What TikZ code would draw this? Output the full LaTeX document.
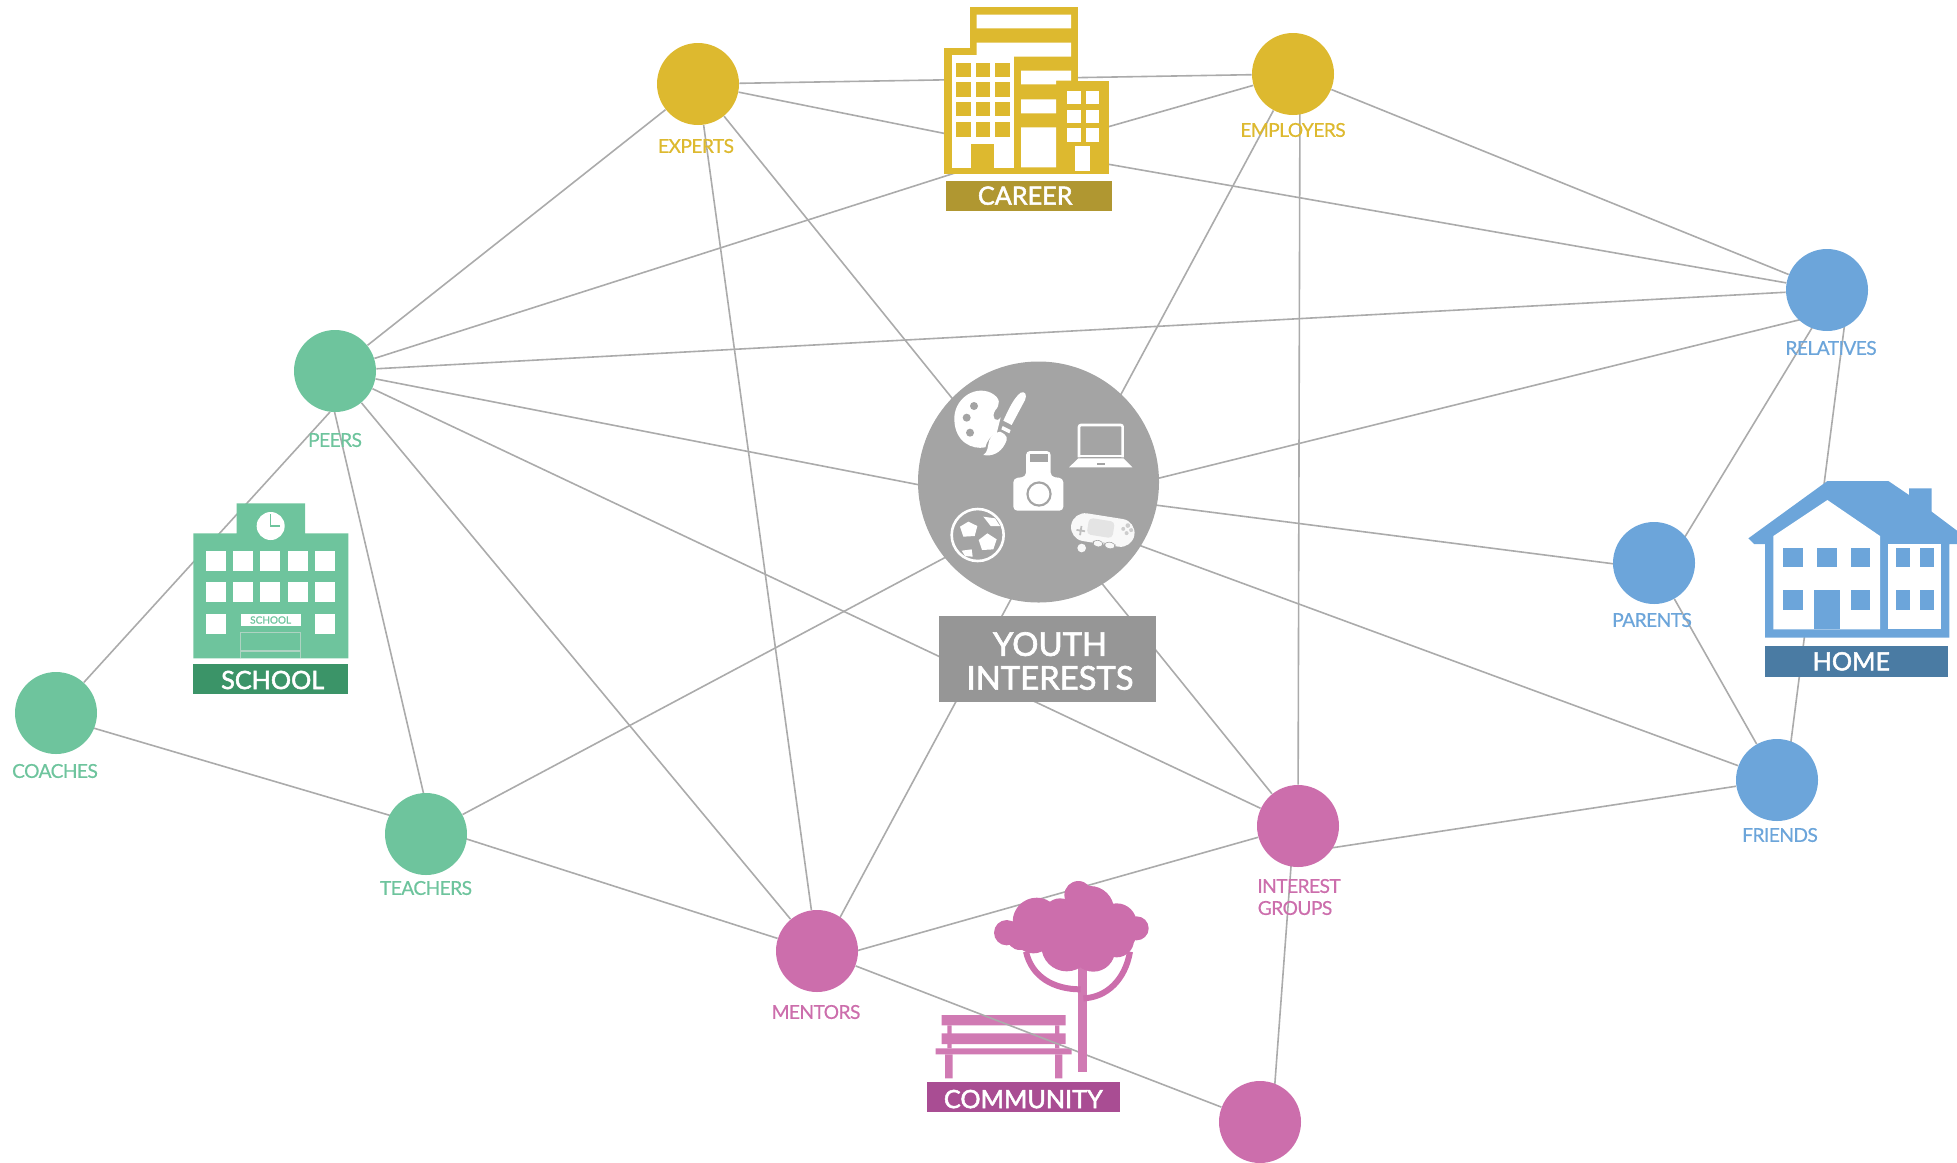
\documentclass[tikz,border=0pt]{standalone}
\usepackage{fontspec}
\setmainfont{Lato}
\usetikzlibrary{backgrounds}
\definecolor{gold}{HTML}{DDB92F}\definecolor{golddk}{HTML}{B09731}
\definecolor{grn}{HTML}{6EC49D}\definecolor{grndk}{HTML}{3B9468}
\definecolor{blu}{HTML}{6CA5DA}\definecolor{bludk}{HTML}{4A7BA3}
\definecolor{pnk}{HTML}{CC6EAC}\definecolor{pnkdk}{HTML}{A94D93}
\definecolor{gry}{HTML}{A4A4A4}\definecolor{grydk}{HTML}{969696}
\definecolor{edgec}{HTML}{ABABAB}
\newcommand\fsz[1]{\fontsize{#1}{#1}\selectfont}
\tikzset{
  hub/.style={circle,inner sep=0pt,minimum size=41pt,fill=#1},
  lab/.style={inner sep=0pt,text=#1,font=\fsz{9.6}\addfontfeatures{LetterSpace=-3,FakeBold=0.5}},
  ban/.style={inner sep=0pt,fill=#1,text=white,font=\fsz{12.6}\addfontfeatures{FakeBold=2}},
  link/.style={draw=edgec,line width=0.8pt},
  zoomed/.style={x=0.16667pt,y=-0.16667pt},
}
\begin{document}
\begin{tikzpicture}[x=0.5pt,y=-0.5pt]
\clip (0,0) rectangle (1957,1162);
% circles
\node[hub=gold] (exp) at (698,84) {};
\node[hub=gold] (emp) at (1293,74) {};
\node[hub=blu] (rel) at (1827,290) {};
\node[hub=blu] (par) at (1654,563) {};
\node[hub=blu] (frd) at (1777,780) {};
\node[hub=grn] (pee) at (335,371) {};
\node[hub=grn] (coa) at (56,713) {};
\node[hub=grn] (tea) at (426,834) {};
\node[hub=pnk] (men) at (817,951) {};
\node[hub=pnk] (int) at (1298,826) {};
\node[hub=pnk] (bot) at (1260,1122) {};
\coordinate (car) at (1027,150);
\coordinate (yc) at (1038,508);
\coordinate (yp) at (1038,490);
\coordinate (relb) at (1849,290);
\coordinate (frdb) at (1786,780);
\coordinate (empb) at (1300,74);
\coordinate (rely) at (1827,313);
\coordinate (relp) at (1835,290);
\coordinate (parr) at (1669,563);
\coordinate (paro) at (1654,569);
\coordinate (peet) at (325,371);
\coordinate (teap) at (433,834);
\coordinate (peec) at (330,412);
\coordinate (teah) at (426,826);
\coordinate (coah) at (56,717);
\coordinate (intb) at (1294,826);
\coordinate (botb) at (1272,1122);
\coordinate (intf) at (1298,853);
\coordinate (meni) at (817,962);
\coordinate (mene) at (822,951);
\begin{pgfonlayer}{background}
\foreach \a/\b in {exp/emp,exp/car,emp/car,rel/car,pee/car,exp/pee,exp/int,exp/men,mene/emp,empb/int,emp/rel,
  pee/rel,pee/yc,pee/int,peet/teap,pee/men,teah/coah,tea/yc,teah/men,meni/int,intf/frd,intb/botb,
  rely/yc,paro/yp,frd/yc,relp/parr,par/frd,relb/frdb,coa/peec}
  \draw[link] (\a) -- (\b);
\end{pgfonlayer}
% career
\begin{scope}[shift={(920,0)},zoomed]
\fill[gold] (150,22) rectangle (475,260);
\fill[gold] (72,144) rectangle (302,523);
\fill[gold] (72,242) rectangle (568,523);
\fill[white] (170,44) rectangle (453,85) (170,128) rectangle (453,170) (303,212) rectangle (453,242) (303,212) rectangle (408,253)
 (303,298) rectangle (408,340) (303,382) rectangle (408,502);
\fill[white] (95,165) rectangle (282,503);
\foreach \xx in {108,167,225} \foreach \yy in {188,247,305,367}
  \fill[gold] (\xx,\yy) rectangle ++(44,44);
\fill[gold] (152,432) rectangle (223,503);
\foreach \xx in {442,497} \foreach \yy in {272,330,385}
  \fill[white] (\xx,\yy) rectangle ++(40,40);
\fill[white] (465,438) rectangle (510,512);
\node[ban=golddk,minimum width=83.3pt,minimum height=15pt] (cart) at (327,587) {\hspace{-3.8pt}CAREER};
\end{scope}
% school
\begin{scope}[shift={(180,490)},zoomed]
\fill[grn] (170,40) rectangle (375,135) (40,130) rectangle (505,505);
\fill[white] (272,108) circle[radius=42];
\draw[grn,line width=0.7pt] (272,72) -- (272,108) -- (300,108);
\foreach \xx in {77,158,240,323,405} \foreach \yy in {183,277}
  \fill[white] (\xx,\yy) rectangle ++(60,60);
\foreach \xx in {77,405} \fill[white] (\xx,371) rectangle ++(60,60);
\node[fill=white,inner sep=0pt,minimum width=30pt,minimum height=6pt,text=grn,font=\fsz{5}\addfontfeatures{FakeBold=1}] (ssign) at (272,390) {SCHOOL};
\draw[white!50!grn!85!gray,line width=0.3pt] (180,428) rectangle (362,480) (180,505) -- (180,485) -- (362,485) -- (362,505);
\node[ban=grndk,minimum width=77.8pt,minimum height=15pt] (scht) at (272,567) {\hspace{2pt}\raisebox{-0.5pt}[\height][\depth]{SCHOOL}};
\end{scope}
% home
\begin{scope}[shift={(1740,470)},zoomed]
\fill[blu] (25,205) -- (262,33) -- (445,33) -- (507,75) -- (507,55) -- (575,55) -- (575,125) -- (651,182) -- (651,222) -- (628,222) -- (628,503) -- (75,503) -- (75,222) -- (42,222) -- cycle;
\fill[white] (100,198) -- (262,90) -- (420,198) -- (420,478) -- (100,478) -- cycle;
\fill[white] (445,222) rectangle (604,478);
\foreach \xx/\ww in {130/60,230/60,332/58,467/43,540/43} \fill[blu] (\xx,233) rectangle ++(\ww,59);
\foreach \xx/\ww in {130/60,332/58,467/43,540/43} \fill[blu] (\xx,360) rectangle ++(\ww,60);
\fill[blu] (222,360) rectangle (300,478);
\node[ban=bludk,minimum width=91.3pt,minimum height=15.3pt] (homt) at (349,574) {\hspace{-5pt}HOME};
\end{scope}
% community
\begin{scope}[shift={(920,870)},zoomed]
\fill[pnk!92!white] (65,435) rectangle (437,466) (65,490) rectangle (437,522) (47,535) rectangle (455,553);
\fill[pnk!92!white] (82,466) rectangle (95,535) (405,466) rectangle (418,535) (75,553) rectangle (98,625) (405,553) rectangle (427,625);
\end{scope}
\draw[link] (men) -- (bot);
\begin{scope}[shift={(920,870)},zoomed]
\fill[pnk!92!white] (475,290) rectangle (502,605);
\draw[pnk,line width=3pt] (318,245) .. controls (335,320) and (400,358) .. (482,358);
\draw[pnk,line width=3pt] (630,245) .. controls (615,330) and (560,382) .. (490,385);
\fill[pnk] (260,188) circle[radius=38] (350,155) circle[radius=72] (475,75) circle[radius=42] (510,120) circle[radius=72]
 (590,160) circle[radius=60] (650,175) circle[radius=36] (440,228) circle[radius=76] (520,240) circle[radius=65] (340,190) circle[radius=60] (590,210) circle[radius=52]
 (420,135) circle[radius=50] (300,200) circle[radius=40] (600,190) circle[radius=50];
\node[ban=pnkdk,minimum width=96.7pt,minimum height=15pt] (comt) at (310,680) {\raisebox{-1.2pt}[\height][\depth]{COMMUNITY}};
\end{scope}
% youth
\node[circle,inner sep=0pt,minimum size=120.5pt,fill=gry] (yth) at (1038.5,482) {};
\node[inner sep=0pt,fill=grydk,minimum width=108.5pt,minimum height=43pt] (ybox) at (1047.5,659) {};
\node[inner sep=0pt,text=white,align=center,font=\fsz{16.4}\addfontfeatures{FakeBold=2}] (ytxt) at (1050,661) {YOUTH\\[0.5pt]INTERESTS};
\begin{scope}[shift={(900,340)},zoomed]
% palette
\fill[white] (163,240) .. controls (160,180) and (220,135) .. (272,158) .. controls (305,175) and (300,195) .. (285,212) .. controls (272,235) and (290,250) .. (302,232) -- (290,280) .. controls (270,290) and (262,300) .. (256,322) .. controls (215,330) and (165,305) .. (163,240) -- cycle;
\fill[gry] (222,198) circle[radius=12] (200,233) circle[radius=12] (210,278) circle[radius=12];
\fill[white] (362,158) .. controls (375,152) and (382,165) .. (375,180) -- (335,255) -- (310,242) .. controls (325,210) and (340,175) .. (362,158) -- cycle;
\fill[white] (308,258) -- (332,270) -- (328,280) -- (304,268) -- cycle;
\fill[white] (300,275) .. controls (322,285) and (325,295) .. (315,312) .. controls (300,340) and (275,350) .. (250,345) .. controls (265,335) and (262,320) .. (268,300) .. controls (275,285) and (285,278) .. (300,275) -- cycle;
% laptop
\draw[white,line width=1.3pt,rounded corners=1pt] (537,352) -- (537,255) -- (668,255) -- (668,352);
\fill[white] (507,382) -- (535,355) -- (670,355) -- (697,382) -- cycle;
\fill[white] (535,346) rectangle (670,352);
\fill[gry] (590,368) rectangle (616,374);
% camera
\fill[white,rounded corners=2pt] (340,415) -- (378,410) -- (378,333) -- (452,333) -- (452,410) -- (490,415) -- (490,512) -- (340,512) -- cycle;
\fill[gry] (390,343) rectangle (443,365);
\fill[gry] (417,462) circle[radius=38];
\fill[white] (417,462) circle[radius=31];
% ball
\draw[white,line width=1.3pt] (233,585) circle[radius=78];
\fill[white] (205,545) -- (232,558) -- (224,588) -- (190,590) -- (180,560) -- cycle;
\fill[white] (262,580) -- (290,598) -- (280,628) -- (246,630) -- (236,600) -- cycle;
\fill[white] (250,530) -- (285,535) -- (300,558) -- (272,558) -- cycle;
\fill[white] (185,632) -- (215,628) -- (218,650) -- (195,648) -- cycle;
% game
\fill[white!92!gry] (545,624) circle[radius=13];
\begin{scope}[rotate around={-9:(608,572)}]
\fill[white!92!gry,rounded corners=7pt] (512,528) rectangle (704,612);
\fill[white!70!gry,rounded corners=2pt] (562,540) rectangle (640,590);
\draw[gry!70!white,line width=0.9pt] (530,582) -- (556,582) (543,568) -- (543,596);
\fill[gry!55!white] (680,545) circle[radius=7] (668,557) circle[radius=6] (692,557) circle[radius=6] (680,568) circle[radius=6];
\fill[white!92!gry,draw=gry,line width=0.3pt,rounded corners=2pt] (585,603) rectangle (615,622) (620,603) rectangle (652,622);
\end{scope}
\end{scope}
% labels
\node[lab=gold] (lexp) at (696,146) {EXPERTS};
\node[lab=gold] (lemp) at (1293,130) {EMPLOYERS};
\node[lab=blu] (lrel) at (1831,348) {RELATIVES};
\node[lab=blu] (lpar) at (1652,620) {PARENTS};
\node[lab=blu] (lfrd) at (1780,835) {FRIENDS};
\node[lab=grn] (lpee) at (335,440) {PEERS};
\node[lab=grn] (lcoa) at (55,771) {COACHES};
\node[lab=grn] (ltea) at (426,888) {TEACHERS};
\node[lab=pnk] (lmen) at (816,1012) {MENTORS};
\node[lab=pnk] (lint) at (1299,886) {INTEREST};
\node[lab=pnk] (lgrp) at (1295,908) {GROUPS};
\end{tikzpicture}
\end{document}
